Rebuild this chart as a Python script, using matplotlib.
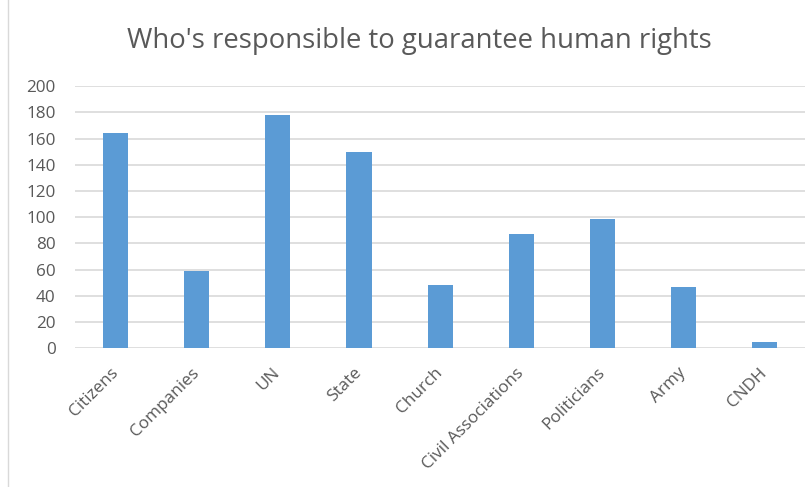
import matplotlib.pyplot as plt
import matplotlib.transforms as mtransforms
from matplotlib.lines import Line2D

# responses per actor
categories = ['Citizens', 'Companies', 'UN', 'State', 'Church',
              'Civil Associations', 'Politicians', 'Army', 'CNDH']
counts = [164, 59, 178, 150, 48, 87, 99, 47, 5]
yticks = [0, 20, 40, 60, 80, 100, 120, 140, 160, 180, 200]

text_color = '#595959'
bar_color = '#5B9BD5'
grid_color = '#D9D9D9'

plt.rcParams['font.family'] = ['Open Sans', 'DejaVu Sans']

fig = plt.figure(figsize=(8.07, 4.87), dpi=100)
ax = fig.add_axes([0.093, 0.285, 0.905, 0.538])

x = range(len(categories))
ax.bar(x, counts, width=0.31, color=bar_color, zorder=3)

ax.set_ylim(0, 200)
ax.set_xlim(-0.5, len(categories) - 0.5)
ax.set_yticks(yticks)
ax.set_xticks(list(x))
ax.set_xticklabels(categories, rotation=45, ha='right', rotation_mode='anchor')
ax.tick_params(axis='both', length=0, colors=text_color, labelsize=12.3)
ax.tick_params(axis='x', pad=12)
ax.tick_params(axis='y', pad=14)

# nudge the slanted labels a little to the left
shift = mtransforms.ScaledTranslation(-4 / 72, 0, fig.dpi_scale_trans)
for lbl in ax.get_xticklabels():
    lbl.set_transform(lbl.get_transform() + shift)

ax.yaxis.grid(True, color=grid_color, linewidth=1.2, zorder=0)
for s in ax.spines.values():
    s.set_visible(False)

fig.text(0.52, 0.901, "Who's responsible to guarantee human rights",
         ha='center', va='baseline', fontsize=19.8, color=text_color)

# thin border on the left of the chart area
fig.add_artist(Line2D([0.01, 0.01], [0.0, 1.0], color=grid_color, linewidth=1.0,
                      transform=fig.transFigure))

fig.savefig('out.png', dpi=100)
